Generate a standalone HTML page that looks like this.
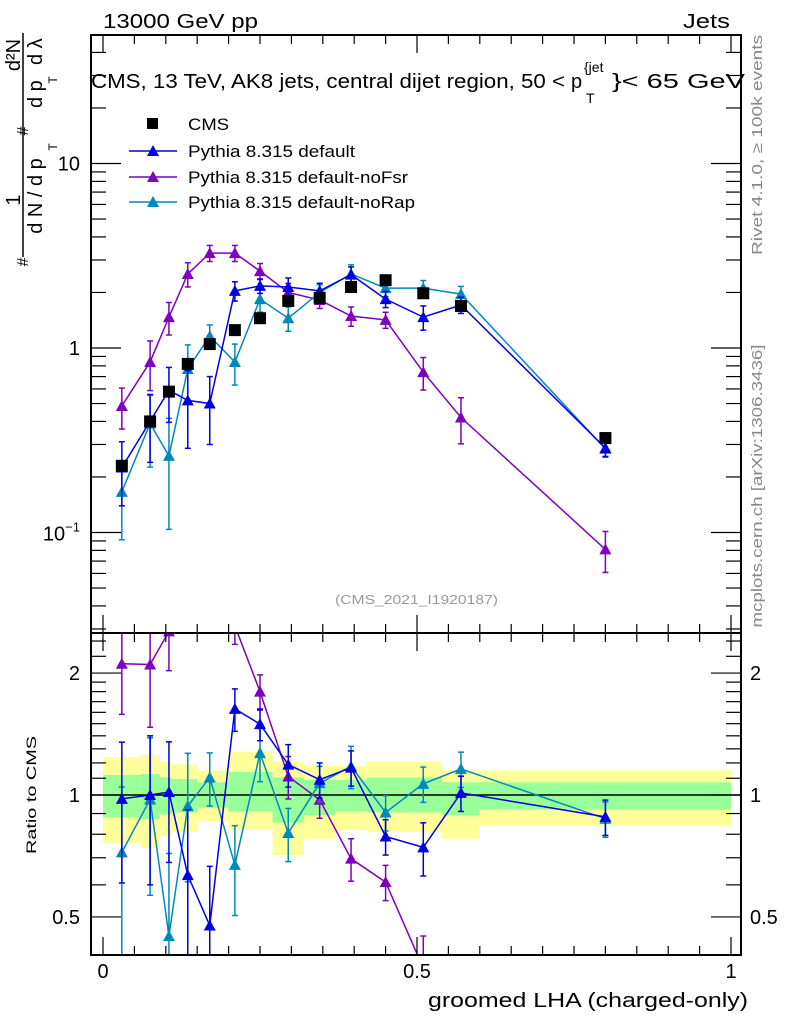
<!DOCTYPE html>
<html><head><meta charset="utf-8"><style>
html,body{margin:0;padding:0;background:#fff;overflow:hidden;width:786px;height:1024px;}
svg{display:block;font-family:"Liberation Sans",sans-serif;}
</style></head><body>
<svg id="chart" width="786" height="1024" viewBox="0 0 786 1024" xmlns="http://www.w3.org/2000/svg">
<g id="bands"></g>
<g id="marks"></g>
<g id="axes"></g>
<g>
<text x="103" y="28" font-size="20" textLength="155" lengthAdjust="spacingAndGlyphs">13000 GeV pp</text>
<text x="683" y="28" font-size="20" textLength="47" lengthAdjust="spacingAndGlyphs">Jets</text>
<g>
<text x="91" y="88" font-size="20" textLength="474" lengthAdjust="spacingAndGlyphs">CMS, 13 TeV, AK8 jets, central dijet region, 50 &lt;</text>
<text x="571" y="88" font-size="20">p</text>
<text x="584" y="72" font-size="14">{jet</text>
<text x="586" y="103" font-size="14">T</text>
<text x="612" y="88" font-size="20" textLength="133" lengthAdjust="spacingAndGlyphs">}&lt; 65 GeV</text>
</g>
<text x="335" y="604" font-size="13" fill="#999" textLength="163" lengthAdjust="spacingAndGlyphs">(CMS_2021_I1920187)</text>
<text transform="translate(762,145) rotate(-90)" font-size="15" fill="#888" text-anchor="middle" textLength="220" lengthAdjust="spacingAndGlyphs">Rivet 4.1.0, ≥ 100k events</text>
<text transform="translate(762,486) rotate(-90)" font-size="15" fill="#888" text-anchor="middle" textLength="283" lengthAdjust="spacingAndGlyphs">mcplots.cern.ch [arXiv:1306.3436]</text>
<text transform="translate(36,795) rotate(-90)" font-size="14" text-anchor="middle" textLength="118" lengthAdjust="spacingAndGlyphs">Ratio to CMS</text>
<text x="428" y="1007" font-size="20" textLength="320" lengthAdjust="spacingAndGlyphs">groomed LHA (charged-only)</text>
<g font-size="20">
<line x1="23" y1="33" x2="23" y2="257" stroke="#000" stroke-width="1.5"/>
<text transform="translate(20,200) rotate(-90)" text-anchor="middle">1</text>
<text transform="translate(28,262) rotate(-90)" font-size="16" text-anchor="middle">#</text>
<text transform="translate(28,131) rotate(-90)" font-size="16" text-anchor="middle">#</text>
<text transform="translate(42,196) rotate(-90)" text-anchor="middle">d N / d p</text>
<text transform="translate(57,147) rotate(-90)" font-size="12" text-anchor="middle">T</text>
<text transform="translate(20,55) rotate(-90)" text-anchor="middle">d²N</text>
<text transform="translate(42,108) rotate(-90)">d p</text>
<text transform="translate(57,80) rotate(-90)" font-size="12" text-anchor="middle">T</text>
<text transform="translate(42,65) rotate(-90)">d λ</text>
</g>
</g>
<g id="legend"></g>
</svg>
<script>
const xBins=[0.03,0.075,0.105,0.135,0.17,0.21,0.25,0.295,0.345,0.395,0.45,0.51,0.57,0.8];
const cmsVals=[0.23,0.40,0.58,0.82,1.05,1.25,1.45,1.8,1.87,2.14,2.33,1.98,1.69,0.325];
const pyDefault=[0.225,0.40,0.59,0.52,0.50,2.04,2.17,2.14,2.04,2.5,1.84,1.47,1.71,0.287];
const pyNoFsr=[0.485,0.84,1.47,2.52,3.27,3.27,2.61,2.0,1.82,1.49,1.42,0.74,0.42,0.081];
const pyNoRap=[0.166,0.39,0.26,0.77,1.16,0.84,1.84,1.45,2.0,2.52,2.11,2.11,1.96,0.284];
const errDefault=[0.38,0.4,0.33,0.45,0.4,0.12,0.09,0.12,0.1,0.1,0.1,0.15,0.1,0.1];
const errNoFsr=[0.25,0.3,0.2,0.15,0.1,0.1,0.1,0.12,0.1,0.12,0.1,0.2,0.28,0.25];
const errNoRap=[0.45,0.42,0.6,0.35,0.15,0.25,0.15,0.15,0.1,0.12,0.1,0.1,0.1,0.1];
const bandEdges=[0,0.06,0.09,0.11,0.15,0.2,0.27,0.32,0.37,0.42,0.54,0.6,1.0];
const yellowUp=[1.24,1.255,1.21,1.19,1.15,1.28,1.21,1.18,1.18,1.21,1.15,1.15];
const yellowLo=[0.76,0.74,0.79,0.81,0.86,0.82,0.71,0.78,0.82,0.81,0.78,0.84];
const xTickLabels=["0","0.5","1"];

const NS="http://www.w3.org/2000/svg";
const L=91,R=741,T=35,MB=633,RB=955;
const X=v=>103+628*v;
const Ym=v=>348-184.5*Math.log10(v);
const Yr=r=>795-405*Math.log10(r);
function mk(p,tag,a){const e=document.createElementNS(NS,tag);for(const k in a)e.setAttribute(k,a[k]);p.appendChild(e);return e;}
const bands=document.getElementById('bands'),marks=document.getElementById('marks'),axes=document.getElementById('axes'),leg=document.getElementById('legend');

for(let i=0;i<bandEdges.length-1;i++){
  const x0=X(bandEdges[i]),x1=X(bandEdges[i+1]);
  const y=mk(bands,'rect',{x:x0,y:Yr(yellowUp[i]),width:x1-x0,height:Yr(yellowLo[i])-Yr(yellowUp[i]),fill:'#ffff99'});
  
  
  const gu=1+(yellowUp[i]-1)*0.5,gl=1-(1-yellowLo[i])*0.5;
  const g=mk(bands,'rect',{x:x0,y:Yr(gu),width:x1-x0,height:Yr(gl)-Yr(gu),fill:'#99ff99'});
  
  
}
mk(bands,'line',{x1:L,x2:R,y1:Yr(1),y2:Yr(1),stroke:'#000','stroke-width':1.5});

const defs=mk(document.getElementById('chart'),'defs',{});
const c1=mk(defs,'clipPath',{id:'cm'});mk(c1,'rect',{x:L,y:T,width:R-L,height:MB-T});
const c2=mk(defs,'clipPath',{id:'cr'});mk(c2,'rect',{x:L,y:MB,width:R-L,height:RB-MB});
const gm=mk(marks,'g',{'clip-path':'url(#cm)'});
const gr=mk(marks,'g',{'clip-path':'url(#cr)'});

function tri(p,x,y,col){return mk(p,'polygon',{points:`${x-6},${y+5} ${x+6},${y+5} ${x},${y-6}`,fill:col});}
function series(vals,errs,col,name){
  const g=mk(gm,'g',{});
  
  
  mk(g,'polyline',{points:vals.map((v,i)=>X(xBins[i])+','+Ym(v)).join(' '),fill:'none',stroke:col,'stroke-width':1.5});
  vals.forEach((v,i)=>{
    const x=X(xBins[i]),hi=Ym(v*(1+errs[i])),lo=Ym(v*(1-errs[i]));
    mk(g,'line',{x1:x,x2:x,y1:hi,y2:lo,stroke:col,'stroke-width':1.5});
    mk(g,'line',{x1:x-3,x2:x+3,y1:hi,y2:hi,stroke:col,'stroke-width':1.5});
    mk(g,'line',{x1:x-3,x2:x+3,y1:lo,y2:lo,stroke:col,'stroke-width':1.5});
    const t=tri(g,x,Ym(v),col);
    
    
  });
  const h=mk(gr,'g',{});
  
  
  const rs=vals.map((v,i)=>v/cmsVals[i]);
  mk(h,'polyline',{points:rs.map((r,i)=>X(xBins[i])+','+Yr(r)).join(' '),fill:'none',stroke:col,'stroke-width':1.5});
  rs.forEach((r,i)=>{
    const x=X(xBins[i]),hi=Yr(r*(1+errs[i])),lo=Yr(Math.max(r*(1-errs[i]),0.01));
    mk(h,'line',{x1:x,x2:x,y1:hi,y2:lo,stroke:col,'stroke-width':1.5});
    mk(h,'line',{x1:x-3,x2:x+3,y1:hi,y2:hi,stroke:col,'stroke-width':1.5});
    mk(h,'line',{x1:x-3,x2:x+3,y1:lo,y2:lo,stroke:col,'stroke-width':1.5});
    const t=tri(h,x,Yr(r),col);
    
    
  });
}
series(pyNoFsr,errNoFsr,'#7f00bf','pythia-nofsr');
series(pyNoRap,errNoRap,'#0088bb','pythia-norap');
series(pyDefault,errDefault,'#0000e0','pythia-default');
cmsVals.forEach((v,i)=>{
  const s=mk(gm,'rect',{x:X(xBins[i])-6,y:Ym(v)-6,width:12,height:12,fill:'#000'});
  
  
});

mk(axes,'rect',{x:L,y:T,width:R-L,height:MB-T,fill:'none',stroke:'#000','stroke-width':2});
mk(axes,'rect',{x:L,y:MB,width:R-L,height:RB-MB,fill:'none',stroke:'#000','stroke-width':2});
for(let k=0;k<=20;k++){
  const v=k*0.05,x=X(v),len=(k%10==0)?18:9;
  [[T,1],[MB,1],[MB,-1],[RB,-1]].forEach(([y0,d])=>mk(axes,'line',{x1:x,x2:x,y1:y0,y2:y0+d*len,stroke:'#000','stroke-width':1.2}));
}
xTickLabels.forEach((s,i)=>{const t=mk(axes,'text',{x:X(i*0.5),y:978,'font-size':20,'text-anchor':'middle'});t.textContent=s;
  });
for(let d=-2;d<=1;d++)for(let m=1;m<=9;m++){
  const v=m*Math.pow(10,d),y=Ym(v);if(y<T||y>MB)continue;
  const len=m==1?30:15;
  mk(axes,'line',{x1:L,x2:L+len,y1:y,y2:y,stroke:'#000','stroke-width':1.2});
  mk(axes,'line',{x1:R,x2:R-len,y1:y,y2:y,stroke:'#000','stroke-width':1.2});
}
[[10,'10'],[1,'1']].forEach(([v,s])=>{const t=mk(axes,'text',{x:80,y:Ym(v)+7,'font-size':20,'text-anchor':'end'});t.textContent=s;
  });
{const t=mk(axes,'text',{x:80,y:Ym(0.1)+8,'font-size':20,'text-anchor':'end'});t.innerHTML='10<tspan font-size="13" dy="-9">−1</tspan>';
 }
[0.4,0.5,0.6,0.7,0.8,0.9,1,1.1,1.2,1.3,1.4,1.5,1.6,1.7,1.8,1.9,2,2.2,2.4].forEach(r=>{
  const y=Yr(r);if(y<MB||y>RB)return;const len=(r==0.5||r==1||r==2)?30:15;
  mk(axes,'line',{x1:L,x2:L+len,y1:y,y2:y,stroke:'#000','stroke-width':1.2});
  mk(axes,'line',{x1:R,x2:R-len,y1:y,y2:y,stroke:'#000','stroke-width':1.2});
});
[[2,'2'],[1,'1'],[0.5,'0.5']].forEach(([r,s])=>{
  const a=mk(axes,'text',{x:80,y:Yr(r)+7,'font-size':20,'text-anchor':'end'});a.textContent=s;
  
  const b=mk(axes,'text',{x:750,y:Yr(r)+7,'font-size':20});b.textContent=s;
  
});
const legLabels=['CMS','Pythia 8.315 default','Pythia 8.315 default-noFsr','Pythia 8.315 default-noRap'];
const legColors=['#000','#0000e0','#7f00bf','#0088bb'];
const legWidths=[41,167,220,227];
const legRows=[124,151,177,202];
legLabels.forEach((lab,i)=>{
  const y=legRows[i];
  const g=mk(leg,'g',{});
  
  
  if(i==0)mk(g,'rect',{x:147,y:y-6,width:11,height:11,fill:'#000'});
  else{mk(g,'line',{x1:129,x2:177,y1:y,y2:y,stroke:legColors[i],'stroke-width':1.5});tri(g,153,y,legColors[i]);}
  const t=mk(g,'text',{x:188,y:y+6,'font-size':17,textLength:legWidths[i],lengthAdjust:'spacingAndGlyphs'});t.textContent=lab;
});
</script>
</body></html>
